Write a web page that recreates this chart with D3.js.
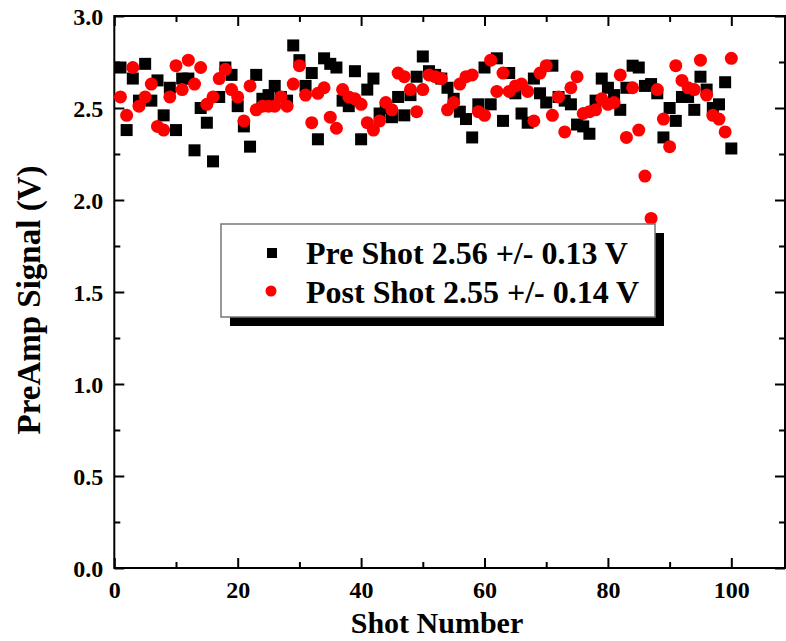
<!DOCTYPE html>
<html>
<head>
<meta charset="utf-8">
<script src="https://cdn.jsdelivr.net/npm/d3@7"></script>
<style>
  html, body { margin: 0; padding: 0; background: #fff; }
  svg { display: block; }
  text { font-family: "Liberation Serif", "Times New Roman", serif; font-weight: bold; fill: #000; }
</style>
</head>
<body>
<svg id="chart" width="786" height="641"></svg>
<script>
// ---- data ----
const shots = d3.range(1, 101);
const preShot = [
  2.72, 2.38, 2.66, 2.54, 2.74, 2.54, 2.65, 2.46, 2.61, 2.38,
  2.66, 2.66, 2.27, 2.50, 2.42, 2.21, 2.56, 2.72, 2.68, 2.51,
  2.40, 2.29, 2.68, 2.55, 2.57, 2.62, 2.56, 2.54, 2.84, 2.76,
  2.62, 2.69, 2.33, 2.77, 2.74, 2.72, 2.54, 2.51, 2.70, 2.33,
  2.60, 2.66, 2.47, 2.50, 2.45, 2.56, 2.46, 2.57, 2.67, 2.78,
  2.70, 2.68, 2.66, 2.61, 2.55, 2.48, 2.44, 2.34, 2.52, 2.72,
  2.52, 2.77, 2.43, 2.69, 2.58, 2.47, 2.42, 2.66, 2.58, 2.53,
  2.73, 2.56, 2.54, 2.52, 2.41, 2.40, 2.36, 2.54, 2.66, 2.61,
  2.57, 2.49, 2.61, 2.73, 2.72, 2.62, 2.63, 2.58, 2.34, 2.50,
  2.43, 2.56, 2.56, 2.49, 2.67, 2.60, 2.50, 2.52, 2.64, 2.28
];
const postShot = [
  2.56, 2.46, 2.72, 2.51, 2.56, 2.63, 2.40, 2.38, 2.56, 2.73,
  2.60, 2.76, 2.63, 2.72, 2.52, 2.56, 2.66, 2.71, 2.60, 2.56,
  2.43, 2.62, 2.49, 2.51, 2.51, 2.51, 2.56, 2.51, 2.63, 2.73,
  2.57, 2.42, 2.58, 2.61, 2.45, 2.39, 2.60, 2.56, 2.55, 2.52,
  2.42, 2.38, 2.43, 2.53, 2.49, 2.69, 2.67, 2.60, 2.48, 2.60,
  2.68, 2.67, 2.66, 2.49, 2.53, 2.63, 2.67, 2.68, 2.48, 2.46,
  2.76, 2.59, 2.69, 2.59, 2.62, 2.63, 2.59, 2.43, 2.69, 2.73,
  2.46, 2.56, 2.37, 2.61, 2.67, 2.47, 2.48, 2.49, 2.55, 2.52,
  2.53, 2.68, 2.34, 2.61, 2.38, 2.13, 1.90, 2.60, 2.44, 2.29,
  2.73, 2.65, 2.61, 2.60, 2.76, 2.57, 2.46, 2.44, 2.37, 2.77
];
const seriesNames = ["Pre Shot 2.56 +/- 0.13 V", "Post Shot 2.55 +/- 0.14 V"];
const xMajorTicks = [0, 20, 40, 60, 80, 100];
const xMinorTicks = [10, 30, 50, 70, 90];
const yMajorTicks = [0, 0.5, 1.0, 1.5, 2.0, 2.5, 3.0];
const yMinorTicks = [0.25, 0.75, 1.25, 1.75, 2.25, 2.75];
const xTitle = "Shot Number";
const yTitle = "PreAmp Signal (V)";

// ---- layout ----
const L = 114.3, R = 785, T = 16, B = 568;
const svg = d3.select("#chart");
const x = d3.scaleLinear().domain([0, 108.7]).range([L, R]);
const y = d3.scaleLinear().domain([0, 3]).range([B, T]);

// frame
svg.append("rect").attr("x", L).attr("y", T).attr("width", R - L).attr("height", B - T)
  .attr("fill", "none").attr("stroke", "#000").attr("stroke-width", 2);

function tickAxis(axisFn, scale, ticks, len, transform, labels) {
  const g = svg.append("g").attr("transform", transform)
    .call(axisFn(scale).tickValues(ticks).tickSizeInner(len).tickSizeOuter(0)
      .tickFormat(labels ? labels : ""));
  g.select(".domain").remove();
  g.selectAll(".tick line").attr("stroke", "#000").attr("stroke-width", 2);
  return g;
}
// bottom (ticks inside -> negative size)
const gxb = tickAxis(d3.axisBottom, x, xMajorTicks, -10, `translate(0,${B})`, d3.format("d"));
gxb.selectAll(".tick text").attr("y", 13).attr("dy", "0.71em").style("font-size", "24px")
  .style("font-family", "Liberation Serif").style("font-weight", "bold");
tickAxis(d3.axisBottom, x, xMinorTicks, -6, `translate(0,${B})`, null);
// top
tickAxis(d3.axisTop, x, xMajorTicks, -10, `translate(0,${T})`, null);
tickAxis(d3.axisTop, x, xMinorTicks, -6, `translate(0,${T})`, null);
// left
const gyl = tickAxis(d3.axisLeft, y, yMajorTicks, -10, `translate(${L},0)`, d3.format(".1f"));
gyl.selectAll(".tick text").attr("x", -11).attr("dy", "0.34em").style("font-size", "24px")
  .style("font-family", "Liberation Serif").style("font-weight", "bold");
tickAxis(d3.axisLeft, y, yMinorTicks, -6, `translate(${L},0)`, null);
// right
tickAxis(d3.axisRight, y, yMajorTicks, -10, `translate(${R},0)`, null);
tickAxis(d3.axisRight, y, yMinorTicks, -6, `translate(${R},0)`, null);

// titles
svg.append("text").attr("x", 437).attr("y", 633).attr("text-anchor", "middle")
  .style("font-size", "30px").text(xTitle);
svg.append("text").attr("transform", `translate(40,${300}) rotate(-90)`).attr("text-anchor", "middle")
  .style("font-size", "33px").text(yTitle);

// data
const sq = 12;
svg.append("g").selectAll("rect").data(shots).join("rect")
  .attr("x", (d, i) => x(d) - sq / 2).attr("y", (d, i) => y(preShot[i]) - sq / 2)
  .attr("width", sq).attr("height", sq).attr("fill", "#000");
svg.append("g").selectAll("circle").data(shots).join("circle")
  .attr("cx", d => x(d)).attr("cy", (d, i) => y(postShot[i])).attr("r", 6.5).attr("fill", "#ff0000");

// legend
const lg = svg.append("g");
const lx = 221, ly = 224, lw = 434, lh = 93;
lg.append("rect").attr("x", lx + 9).attr("y", ly + 9).attr("width", lw).attr("height", lh).attr("fill", "#000");
lg.append("rect").attr("x", lx).attr("y", ly).attr("width", lw).attr("height", lh)
  .attr("fill", "#fff").attr("stroke", "#777").attr("stroke-width", 1.5);
lg.append("rect").attr("x", 272 - 5).attr("y", 253 - 5).attr("width", 10).attr("height", 10).attr("fill", "#000");
lg.append("circle").attr("cx", 271).attr("cy", 291).attr("r", 5.5).attr("fill", "#ff0000");
lg.append("text").attr("x", 306).attr("y", 264).style("font-size", "32px").text(seriesNames[0]);
lg.append("text").attr("x", 306).attr("y", 303).style("font-size", "32px").text(seriesNames[1]);
</script>
</body>
</html>
